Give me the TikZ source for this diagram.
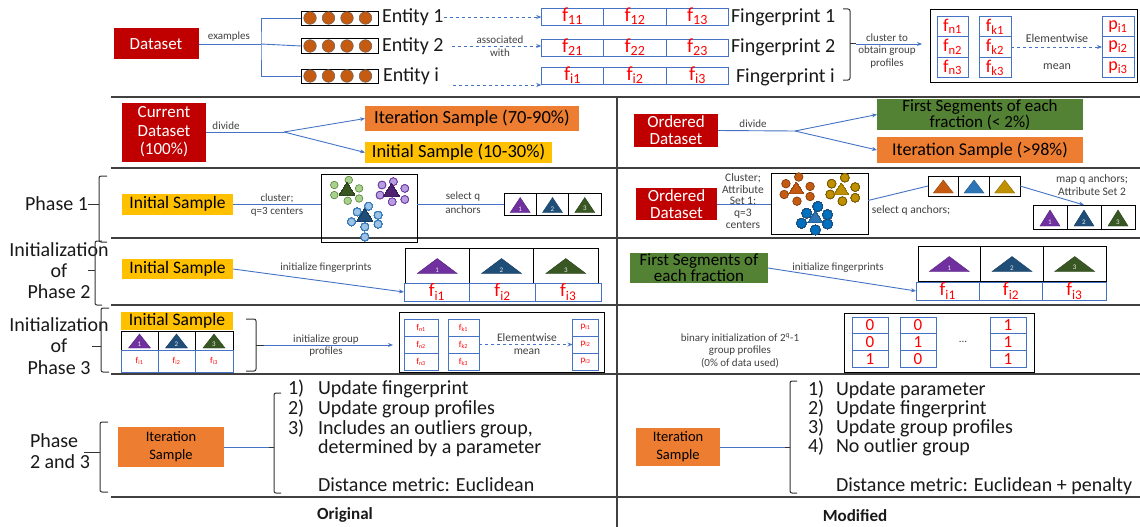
\documentclass[tikz,border=0pt]{standalone}
\usepackage{fontspec}
\setmainfont{Carlito}
\usetikzlibrary{arrows.meta}
\definecolor{dred}{HTML}{C00000}
\definecolor{orng}{HTML}{ED7D31}
\definecolor{yel}{HTML}{FFC000}
\definecolor{grn}{HTML}{548235}
\definecolor{lblue}{HTML}{4472C4}
\definecolor{fred}{HTML}{FF0000}
\definecolor{brn}{HTML}{C55A11}
\definecolor{tpur}{HTML}{7030A0}
\definecolor{tblu}{HTML}{1F4E79}
\definecolor{tgrn}{HTML}{385723}
\definecolor{gold}{HTML}{BF9000}
\definecolor{mblu}{HTML}{2E75B6}
\definecolor{cblu}{HTML}{0070C0}
\definecolor{lgrn}{HTML}{A9D18E}
\definecolor{lpur}{HTML}{B4A0E0}
\definecolor{lblu}{HTML}{9DC3E6}
\newcommand\tri[7]{\filldraw[fill=#6, draw=#6!75!black, line width=0.4pt] ({#2-#4/2},{#3+#5/2}) -- ({#2+#4/2},{#3+#5/2}) -- (#2,{#3-#5/2}) -- cycle;
\node[tnum] (#1) at (#2,{#3+#5/4}) {#7};}
\newcommand\clc[5]{\filldraw[fill=#3, draw=#4, line width=0.6pt] (#1,#2) circle (#5);}
\begin{document}
\begin{tikzpicture}[x=1pt,y=-1pt,
  tx/.style={inner sep=0pt, outer sep=0pt, align=center, text=black!90},
  bx/.style={rectangle, inner sep=0pt, outer sep=0pt, align=center},
  redb/.style={bx, fill=dred, text=white},
  orb/.style={bx, fill=orng, text=black},
  yelb/.style={bx, fill=yel, text=black},
  grnb/.style={bx, fill=grn, text=black},
  fc/.style={bx, draw=lblue, line width=0.8pt, text=fred},
  kc/.style={bx, draw=black, line width=0.9pt},
  conn/.style={draw=lblue, line width=0.9pt},
  arr/.style={conn, -{Stealth[length=5pt,width=4pt]}},
  sm/.style={tx, text=black!75, font=\fontsize{11}{12.5}\selectfont},
  brc/.style={draw=black!80, line width=1pt, rounded corners=2pt},
  rl/.style={draw=black!75, line width=1.6pt},
  tnum/.style={inner sep=0pt, text=white!85!gray, font=\fontsize{7}{7}\selectfont},
  big/.style={tx, font=\fontsize{20}{21}\selectfont},
]
\useasboundingbox (0,0) rectangle (1140,527);
\fill[white] (0,0) rectangle (1140,527);

% ---------------- top section
\node[redb, minimum width=85, minimum height=31, font=\fontsize{17}{18}\selectfont] (ds) at (156,44) {Dataset};
\coordinate (bk) at (261,44);
\node[kc, minimum width=77, minimum height=14] (e1) at (339.5,18) {};
\node[kc, minimum width=77, minimum height=15] (e2) at (339.5,46) {};
\node[kc, minimum width=77, minimum height=14] (ei) at (339.5,76) {};
\foreach \yy in {18,46,76} \foreach \xx in {310,328.5,347,365.5} \filldraw[fill=brn, draw=black!60, line width=0.5pt] (\xx,\yy) circle (6.3);
\draw[conn] (ds.east) -- (bk);
\draw[conn] (e1.west) -| (bk) |- (ei.west);
\draw[conn] (bk) -- (e2.west);
\node[sm] (lex) at (229,37) {examples};
\node[big, anchor=west] (t1) at (382,17) {Entity 1};
\node[big, anchor=west] (t2) at (382,46) {Entity 2};
\node[big, anchor=west] (ti) at (383,76) {Entity i};

\foreach \c/\xx in {1/572.5,2/635,3/697.5} {
  \node[fc, minimum width=62.5, minimum height=17, font=\fontsize{20}{20}\selectfont] (f1\c) at (\xx,16.5) {f\textsubscript{1\c}};
  \node[fc, minimum width=62.5, minimum height=17, font=\fontsize{20}{20}\selectfont] (f2\c) at (\xx,47.5) {f\textsubscript{2\c}};
  \node[fc, minimum width=62.5, minimum height=15, font=\fontsize{20}{20}\selectfont] (fi\c) at (\xx,75.5) {f\textsubscript{i\c}};
}
\draw[arr, dashed] (t1.east) -- (t1.east -| f11.west);
\draw[arr, dashed] ([xshift=8pt]t2.east) -- (t2.east -| f21.west);
\node[sm] (las) at (500,46) {associated\\with};
\coordinate (di) at (453,85);
\draw[arr, dashed] (di) -- (di -| fi1.west);
\node[big, anchor=west] (fp1) at (731,17) {Fingerprint 1};
\node[big, anchor=west] (fp2) at (731,47) {Fingerprint 2};
\node[big, anchor=west] (fpi) at (736,77) {Fingerprint i};

\draw[brc] (843,9) -- (850,9) -- (850,80) -- (843,80);
\coordinate (bn) at (856,44);
\draw[brc] (850,44) -- (bn);
\node[kc, minimum width=207, minimum height=73, line width=1pt] (gp) at (1033.5,46) {};
\draw[arr, shorten >=8pt] (bn) -- (bn -| gp.west);
\node[sm] (lcl) at (887,51) {cluster to\\obtain group\\profiles};
\foreach \r/\yy in {1/26.5,2/47,3/67.5} {
  \node[fc, minimum width=31, minimum height=20.5, font=\fontsize{18}{18}\selectfont] (gn\r) at (952.5,\yy) {f\textsubscript{n\r}};
  \node[fc, minimum width=32, minimum height=20.5, font=\fontsize{18}{18}\selectfont] (gk\r) at (995,\yy) {f\textsubscript{k\r}};
  \node[fc, minimum width=32, minimum height=20.5, font=\fontsize{18}{18}\selectfont] (gq\r) at (1118,\yy) {p\textsubscript{i\r}};
}
\node[sm, font=\fontsize{12}{13}\selectfont] (lew) at (1057,38) {Elementwise};
\node[sm, font=\fontsize{12}{13}\selectfont] (lmn) at (1057,67) {mean};
\draw[arr, dashed] (gk2.east) -- (gq2.west);

% ---------------- rules
\foreach \yy in {97,168,238,305,374,497} \draw[rl] (111,\yy) -- (1140,\yy);
\draw[rl] (617,97) -- (617,527);

% ---------------- row 2
\node[redb, minimum width=84, minimum height=59, font=\fontsize{17}{18.5}\selectfont] (cd) at (164,132) {Current\\Dataset\\(100\%)};
\coordinate (sp1) at (284,132);
\node[orb, minimum width=214, minimum height=25, font=\fontsize{18.5}{19}\selectfont] (it1) at (472,118.5) {Iteration Sample (70-90\%)};
\node[yelb, minimum width=187, minimum height=21, font=\fontsize{18.5}{19}\selectfont] (in1) at (458.5,152.5) {Initial Sample (10-30\%)};
\draw[conn] (cd.east) -- (sp1);
\draw[arr] (sp1) -- (it1.west);
\draw[arr] (sp1) -- (in1.west);
\node[sm] (ldv1) at (226,126) {divide};

\node[redb, minimum width=84, minimum height=33, font=\fontsize{17}{17}\selectfont] (od1) at (676,130.5) {Ordered\\Dataset};
\coordinate (sp2) at (795,131);
\node[grnb, minimum width=206, minimum height=29, font=\fontsize{17}{16}\selectfont] (fs1) at (980,114.5) {First Segments of each\\fraction (< 2\%)};
\node[orb, minimum width=206, minimum height=26, font=\fontsize{18}{19}\selectfont] (it2) at (980,150) {Iteration Sample (>98\%)};
\draw[conn] (od1.east) -- (sp2);
\draw[arr] (sp2) -- (fs1.west);
\draw[arr] (sp2) -- (it2.west);
\node[sm] (ldv2) at (753,124) {divide};

% ---------------- row 3 (Phase 1)
\node[big, anchor=east] (ph1) at (88,204) {Phase 1};
\draw[brc] (107,176) -- (99,176) -- (99,242) -- (107,242);
\coordinate (bp1) at (99,204);
\draw[brc] (ph1.east) -- (bp1);
\node[yelb, minimum width=111, minimum height=21, font=\fontsize{17.5}{18}\selectfont] (is3) at (177.5,204) {Initial Sample};
\node[kc, minimum width=96, minimum height=68] (cb1) at (369,208) {};
\draw[conn] (is3.east) -- (is3.east -| cb1.west);
\node[sm] (lc1) at (277,198) {cluster;};
\node[sm] (lc2) at (277,212) {q=3 centers};
% clusters left
\foreach \px/\py in {334.3/185,348.8/180,359.1/188.4,334.3/195.1,347.7/200.8,359.1/198.5} \clc{\px}{\py}{lgrn}{grn}{3.8}
\foreach \px/\py in {382/185,393.4/181.7,404.8/188.4,380/195.1,392.2/201.8,404.8/199.5} \clc{\px}{\py}{lpur}{tpur}{3.8}
\foreach \px/\py in {357.2/211.9,368.6/206.2,378.1/215.2,351.5/221.9,364.8/226.9,378.1/224.2,364.8/237} \clc{\px}{\py}{lblu}{mblu}{3.8}
\tri{c1a}{347}{189}{15}{12}{tgrn}{}
\tri{c1b}{391.5}{190}{15}{12}{tpur!70!black}{}
\tri{c1c}{364.8}{215}{15}{12}{tblu}{}
\foreach \c/\xx in {1/520.2,2/552.5,3/584.8} \node[kc, minimum width=32.3, minimum height=22] (a\c) at (\xx,204) {};
\tri{an1}{520.2}{205}{20}{15}{tpur}{1}
\tri{an2}{552.5}{205}{20}{15}{tblu}{2}
\tri{an3}{584.8}{205}{20}{15}{tgrn}{3}
\draw[conn] (cb1.east |- is3.east) -- (a1.west);
\node[sm] (ls1) at (463,197) {select q};
\node[sm] (ls2) at (463,210) {anchors};

% right Phase 1
\node[sm, font=\fontsize{11.5}{11.8}\selectfont] (lcr) at (743,201) {Cluster;\\Attribute\\Set 1;\\q=3\\centers};
\node[redb, minimum width=81, minimum height=32, font=\fontsize{17}{16.5}\selectfont] (od2) at (676.5,204) {Ordered\\Dataset};
\node[kc, minimum width=97, minimum height=61] (cb2) at (819.5,203.5) {};
\draw[conn] (od2.east) -- (od2.east -| cb2.west);
\foreach \px/\py in {785.9/183.7,798.7/177,810.1/186.4,784.2/194.5,797/201.2,810.1/196.5} \clc{\px}{\py}{brn}{brn!60!black}{4.3}
\foreach \px/\py in {831.6/183.7,844.8/177.7,855.2/187.1,830.2/194.5,842.4/201.2,855.2/197.8} \clc{\px}{\py}{gold}{gold!60!black}{4.3}
\foreach \px/\py in {806.7/213.2,817.8/206.5,827.5/214.6,801.5/223.3,815.3/230,827.5/224} \clc{\px}{\py}{cblu}{tblu}{4.8}
\tri{c2a}{796.3}{188}{14}{11}{brn}{}
\tri{c2b}{841.3}{189}{14}{11}{gold}{}
\tri{c2c}{815.3}{217}{14}{11}{mblu}{}
\foreach \c/\xx in {1/943.3,2/974,3/1004.7} \node[kc, minimum width=30.7, minimum height=20] (b\c) at (\xx,186) {};
\tri{bn1}{943.3}{186.5}{20}{13}{brn}{}
\tri{bn2}{974}{186.5}{20}{13}{mblu}{}
\tri{bn3}{1004.7}{186.5}{20}{13}{gold}{}
\draw[conn] ([yshift=3pt]cb2.east) -- (b1.west);
\node[sm, font=\fontsize{11.5}{12}\selectfont] (lsq) at (911,210) {select q anchors;};
\foreach \c/\xx in {1/1050,2/1084,3/1118} \node[kc, minimum width=34, minimum height=24] (d\c) at (\xx,217) {};
\tri{dn1}{1050}{218}{20}{16}{tpur}{1}
\tri{dn2}{1084}{218}{20}{16}{tblu}{2}
\tri{dn3}{1118}{218}{20}{16}{tgrn}{3}
\draw[arr] (b3.east) -- (d2.north);
\node[sm, font=\fontsize{11.5}{13}\selectfont] (lmq) at (1092,185) {map q anchors;\\Attribute Set 2};

% ---------------- row 4 (Init Phase 2)
\node[big] (lp2) at (59,271) {Initialization\\of\\Phase 2};
\draw[brc] (102,241) -- (95,241) -- (95,305) -- (102,305);
\coordinate (bp2) at (95,270);
\draw[brc] (88,270) -- (bp2);
\node[yelb, minimum width=111, minimum height=20, font=\fontsize{17.5}{18}\selectfont] (is4) at (177.5,269) {Initial Sample};
\foreach \c/\xx in {1/437.2,2/501.5,3/565.8} \node[kc, minimum width=64.3, minimum height=35] (g\c) at (\xx,265.5) {};
\tri{gn1}{437.2}{266}{40}{15}{tpur}{1}
\tri{gn2}{501.5}{266}{40}{15}{tblu}{2}
\tri{gn3}{565.8}{266}{40}{15}{tgrn}{3}
\foreach \c/\xx in {1/436.8,2/502.5,3/568.2} \node[fc, minimum width=65.7, minimum height=18, font=\fontsize{19}{19}\selectfont] (h\c) at (\xx,292) {f\textsubscript{i\c}};
\draw[arr] (is4.east) -- (h1.west);
\node[sm] (lif1) at (326,268) {initialize fingerprints};

\node[grnb, minimum width=138, minimum height=30, font=\fontsize{17}{16}\selectfont] (gb4) at (699,268) {First Segments of\\each fraction};
\foreach \c/\xx in {1/949.3,2/1012,3/1074.7} \node[kc, minimum width=62.7, minimum height=35] (k\c) at (\xx,263.5) {};
\tri{kn1}{949.3}{264}{40}{15}{tpur}{1}
\tri{kn2}{1012}{264}{40}{15}{tblu}{2}
\tri{kn3}{1074.7}{264}{40}{15}{tgrn}{3}
\foreach \c/\xx in {1/947.7,2/1011,3/1074.3} \node[fc, minimum width=63.3, minimum height=18, font=\fontsize{19}{19}\selectfont] (m\c) at (\xx,291) {f\textsubscript{i\c}};
\draw[arr] (gb4.east) -- (m1.west);
\node[sm] (lif2) at (838,268) {initialize fingerprints};

% ---------------- row 5 (Init Phase 3)
\node[big, font=\fontsize{20}{21.5}\selectfont] (lp3) at (59,346) {Initialization\\of\\Phase 3};
\draw[brc] (109,308) -- (101,308) -- (101,372) -- (109,372);
\coordinate (bp3) at (101,346);
\draw[brc] (92,346) -- (bp3);
\node[yelb, minimum width=112, minimum height=18, font=\fontsize{17.5}{18}\selectfont] (is5) at (177,321) {Initial Sample};
\foreach \c/\xx/\ww in {1/139.5/37,2/176.5/37,3/214/38} {
  \node[kc, minimum width=\ww, minimum height=19] (p\c) at (\xx,340.5) {};
  \node[fc, minimum width=\ww, minimum height=22, font=\fontsize{9}{9}\selectfont] (q\c) at (\xx,361) {f\textsubscript{i\c}};
}
\tri{pn1}{139.5}{341}{22}{14}{tpur}{1}
\tri{pn2}{176.5}{341}{22}{14}{tblu}{2}
\tri{pn3}{214}{341}{22}{14}{tgrn}{3}
\draw[brc] (246,319) -- (256,319) -- (256,371) -- (246,371);
\coordinate (bn5) at (264,345);
\draw[brc] (256,345) -- (bn5);
\node[kc, minimum width=205, minimum height=60, line width=1pt] (gb5) at (501.5,342) {};
\draw[arr, shorten >=6pt] (bn5) -- (bn5 -| gb5.west);
\node[sm] (lig) at (326,345.5) {initialize group\\profiles};
\foreach \r/\yy in {1/327.5,2/344.5,3/361.5} {
  \node[fc, minimum width=34, minimum height=17, font=\fontsize{9}{9}\selectfont] (rn\r) at (421,\yy) {f\textsubscript{n\r}};
  \node[fc, minimum width=31, minimum height=17, font=\fontsize{9}{9}\selectfont] (rk\r) at (463.5,\yy) {f\textsubscript{k\r}};
  \node[fc, minimum width=26, minimum height=17, font=\fontsize{9}{9}\selectfont] (rp\r) at (585.5,\yy) {p\textsubscript{i\r}};
}
\node[sm, font=\fontsize{11.5}{12}\selectfont] (lew2) at (527,338) {Elementwise};
\node[sm, font=\fontsize{11.5}{12}\selectfont] (lmn2) at (527,352) {mean};
\draw[arr, dashed] (rk2.east) -- (rp2.west);

\node[sm] (lbi) at (740,350.5) {binary initialization of 2\textsuperscript{q}-1\\group profiles\\(0\% of data used)};
\node[kc, minimum width=190, minimum height=59, line width=1pt] (bb) at (939,342.5) {};
\foreach \r/\yy/\va/\vb/\vc in {1/325.5/0/0/1,2/342/0/1/1,3/359/1/0/1} {
  \node[fc, minimum width=36, minimum height=16.5, font=\fontsize{17}{17}\selectfont] (u\r) at (870,\yy) {\va};
  \node[fc, minimum width=36, minimum height=16.5, font=\fontsize{17}{17}\selectfont] (v\r) at (918,\yy) {\vb};
  \node[fc, minimum width=36, minimum height=16.5, font=\fontsize{17}{17}\selectfont] (w\r) at (1008,\yy) {\vc};
}
\node[sm] (ldots) at (963,342) {...};

% ---------------- row 6 (Phase 2 and 3)
\node[big, anchor=west, align=left] (lp23) at (30,451.5) {Phase\\2 and 3};
\draw[brc] (108,422) -- (100,422) -- (100,492) -- (108,492);
\coordinate (bp6) at (100,452);
\draw[brc] (84,452) -- (bp6);
\node[orb, minimum width=106, minimum height=40, font=\fontsize{14.5}{18}\selectfont] (it6) at (171,447) {Iteration\\Sample};
\draw[brc] (281,393) -- (274,393) -- (274,493) -- (281,493);
\coordinate (bq6) at (269,447);
\draw[brc] (274,447) -- (bq6);
\draw[conn] (it6.east) -- (bq6);
\foreach \n/\yy/\tt in {1/388/Update fingerprint,2/408/Update group profiles,3/428/{Includes an outliers group,}} {
  \node[big, anchor=base west] (on\n) at (288,\yy+6.5) {\n)};
  \node[big, anchor=base west] (ot\n) at (318,\yy+6.5) {\tt};
}
\node[big, anchor=base west] (ot4) at (318,453.5) {determined by a parameter};
\node[big, anchor=base west] (ot5) at (318,491.5) {Distance metric: Euclidean};

\node[orb, minimum width=84, minimum height=38, font=\fontsize{14.5}{18}\selectfont] (it7) at (678,447) {Iteration\\Sample};
\draw[brc] (797,381) -- (790,381) -- (790,493) -- (797,493);
\coordinate (bq7) at (785,447);
\draw[brc] (790,447) -- (bq7);
\draw[conn] (it7.east) -- (bq7);
\foreach \n/\yy/\tt in {1/389/Update parameter,2/408/Update fingerprint,3/427/Update group profiles,4/446/No outlier group} {
  \node[big, anchor=base west] (mn\n) at (808,\yy+6.5) {\n)};
  \node[big, anchor=base west] (mt\n) at (836,\yy+6.5) {\tt};
}
\node[big, anchor=base west] (mt5) at (836,491.5) {Distance metric: Euclidean + penalty};

\node[tx, font=\fontsize{17}{18}\selectfont\bfseries] (orig) at (345,515) {Original};
\node[tx, font=\fontsize{17}{18}\selectfont\bfseries] (modi) at (855,516) {Modified};
\end{tikzpicture}
\end{document}
